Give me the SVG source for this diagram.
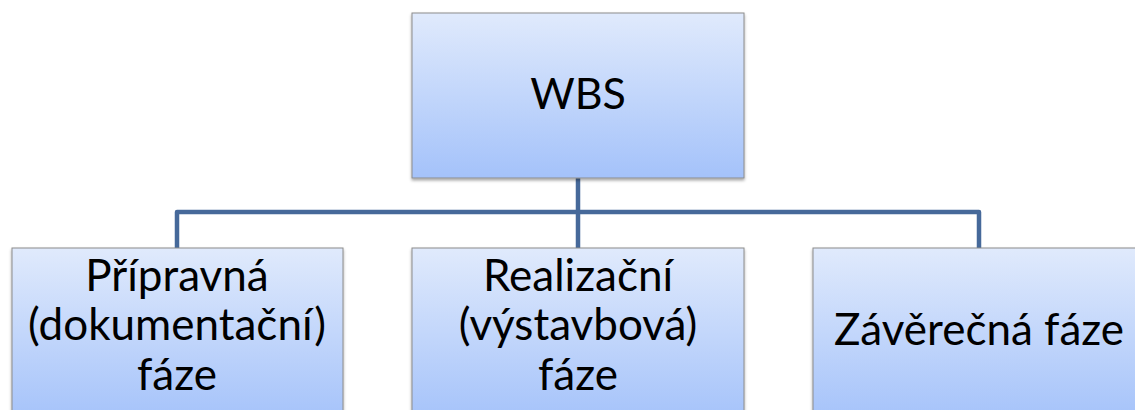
<svg xmlns="http://www.w3.org/2000/svg" width="1135" height="410" viewBox="0 0 1135 410">
<defs>
<linearGradient id="g" x1="0" y1="0" x2="0" y2="1">
<stop offset="0" stop-color="#e0eafc"/>
<stop offset="1" stop-color="#a4c2fa"/>
</linearGradient>
<filter id="sh" x="-5%" y="-5%" width="110%" height="115%">
<feDropShadow dx="0" dy="2" stdDeviation="1.5" flood-color="#000" flood-opacity="0.35"/>
</filter>
</defs>
<style>
.box{fill:url(#g);stroke:#8c8c8c;stroke-width:1;filter:url(#sh)}
.t{font-family:Lato,"Liberation Sans",sans-serif;font-size:44px;fill:#000;text-anchor:middle}
.c{fill:none;stroke:#46699a;stroke-width:4.5;stroke-linejoin:round}
</style>
<g id="connectors">
<path class="c" d="M578 178 V212 M177 248 V212 H979 V248 M578 212 V248"/>
</g>
<g id="wbs">
<rect class="box" x="412" y="13" width="332" height="165"/>
<text class="t" x="578" y="109" style="font-size:43px">WBS</text>
</g>
<g id="pripravna">
<rect class="box" x="12" y="248" width="331" height="175"/>
<text class="t" x="177" y="291">Přípravná</text>
<text class="t" x="177" y="340">(dokumentační)</text>
<text class="t" x="177" y="390">fáze</text>
</g>
<g id="realizacni">
<rect class="box" x="412" y="248" width="332" height="175"/>
<text class="t" x="578" y="291">Realizační</text>
<text class="t" x="578" y="340">(výstavbová)</text>
<text class="t" x="578" y="390">fáze</text>
</g>
<g id="zaverecna">
<rect class="box" x="813" y="248" width="332" height="175"/>
<text class="t" x="979" y="345">Závěrečná fáze</text>
</g>
</svg>
